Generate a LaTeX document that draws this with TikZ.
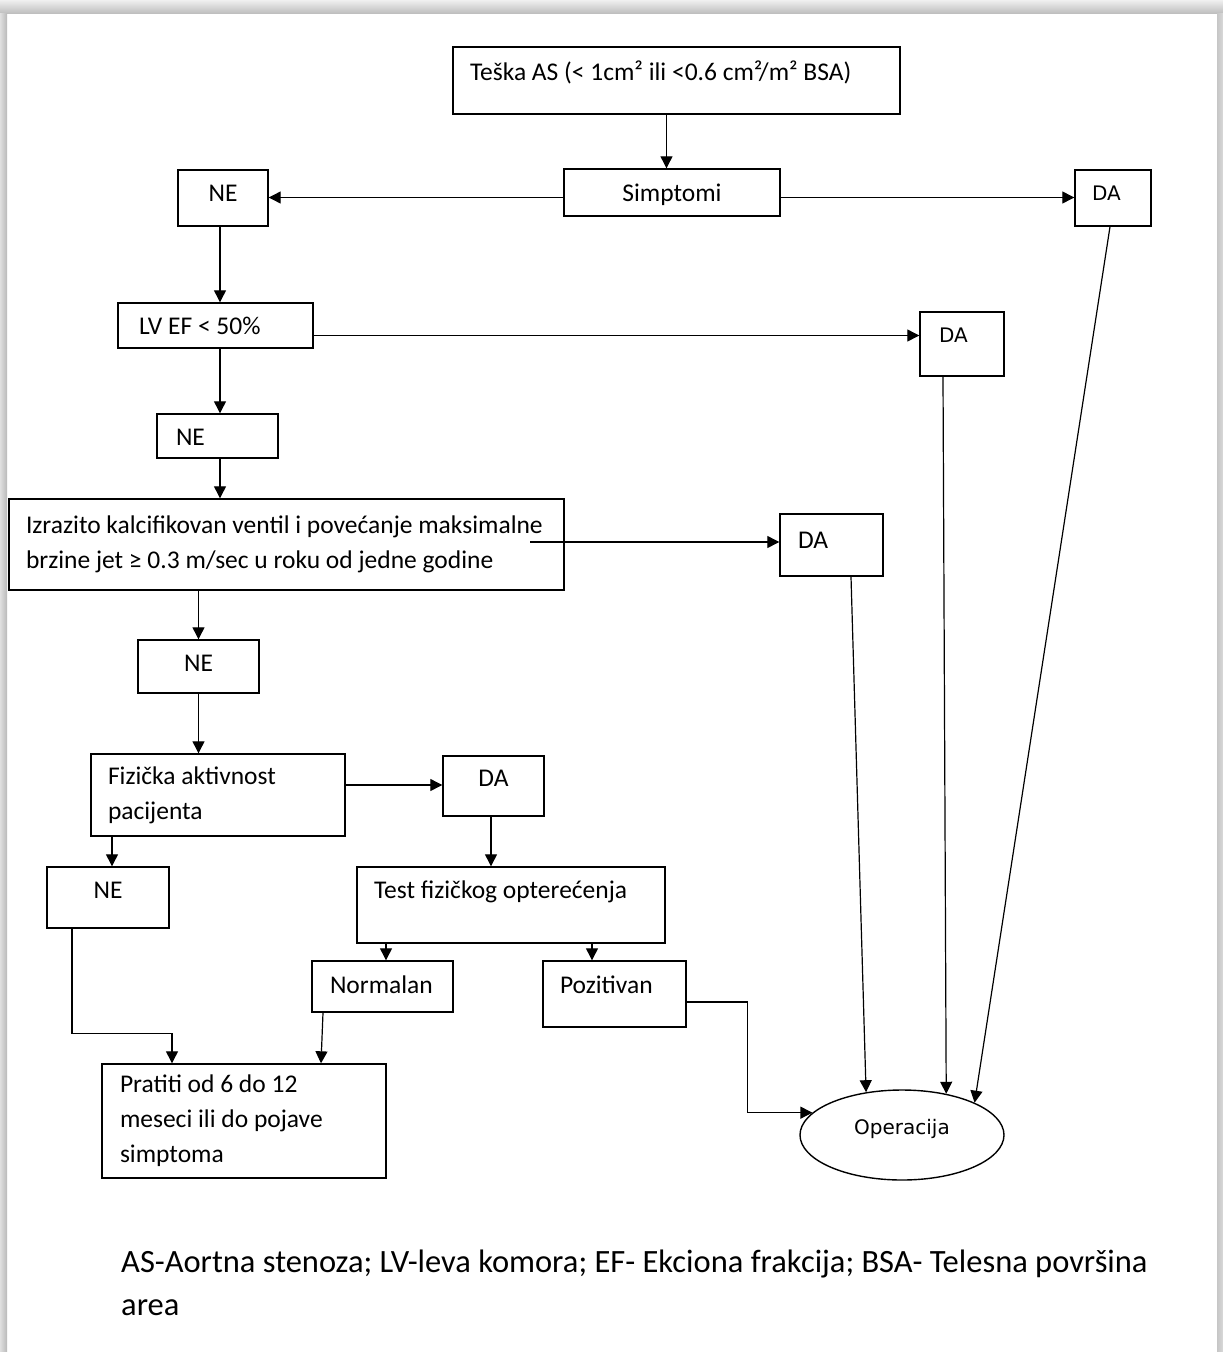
\documentclass[tikz,border=0pt]{standalone}
\usepackage{fontspec}
\setmainfont{Carlito}
\newfontfamily\verd{DejaVu Sans}
\usetikzlibrary{shapes.geometric, arrows.meta, calc}
\tikzstyle{arrow} = [line width=1.2pt, -{Triangle[width=12pt,length=12pt]}]
\tikzstyle{box}   = [draw, line width=1.4pt, rectangle, inner xsep=17pt, inner ysep=0pt, align=flush left, font=\fontsize{25.5}{35}\selectfont]
\tikzstyle{line1} = [text height=19pt]
\tikzstyle{vbox}  = [font=\verd\fontsize{20}{24}\selectfont]
\tikzstyle{oval}  = [draw, line width=1.4pt, ellipse, inner sep=0pt, minimum width=204pt, minimum height=90pt, font=\verd\fontsize{20}{24}\selectfont]

\begin{document}
\begin{tikzpicture}[x=1pt,y=-1pt]

\useasboundingbox (0,0) rectangle (1223,1352);
\fill[white] (0,0) rectangle (1223,1352);
\shade[top color=gray!12, bottom color=gray!50] (0,0) rectangle (1223,13);
\shade[left color=gray!25, right color=gray!55] (0,13) rectangle (7,1352);
\shade[left color=gray!45, right color=gray!30] (1217,13) rectangle (1223,1352);

\node[box,line1,minimum width=447pt,minimum height=67pt,text width=413pt,text depth=19.9pt] (tes) at (676.5,80.5) {Teška AS (< 1cm² ili <0.6 cm²/m² BSA)};
\node[box,line1,align=flush center,minimum width=216pt,minimum height=47pt,text width=182pt,text depth=1.9pt] (sim) at (672,192.5) {Simptomi};
\node[box,line1,align=flush center,minimum width=90pt,minimum height=56pt,text width=56pt,text depth=12.9pt] (ne1) at (223,198) {NE};
\node[box,vbox,line1,minimum width=76pt,minimum height=56pt,text width=42pt,text depth=14.4pt] (da1) at (1113,198) {DA};

\node[box,line1,inner xsep=21pt,minimum width=195pt,minimum height=45pt,text width=153pt,text depth=1.9pt] (lvef) at (215.5,325.5) {LV EF < 50\%};
\node[box,vbox,line1,inner xsep=19pt,minimum width=84pt,minimum height=64pt,text width=46pt,text depth=22.4pt] (da2) at (962,344) {DA};
\node[box,line1,inner xsep=19pt,minimum width=121pt,minimum height=44pt,text width=83pt,text depth=0pt] (ne2) at (217.5,436) {NE};

\node[box,minimum width=555pt,minimum height=91pt,text width=521pt] (izr) at (286.5,544.5) {Izrazito kalcifikovan ventil i povećanje maksimalne\\brzine jet ≥ 0.3 m/sec u roku od jedne godine};
\node[box,line1,inner xsep=18pt,minimum width=103pt,minimum height=62pt,text width=67pt,text depth=12.9pt] (da3) at (831.5,545) {DA};
\node[box,line1,align=flush center,minimum width=121pt,minimum height=53pt,text width=87pt,text depth=9.9pt] (ne3) at (198.5,666.5) {NE};

\node[box,minimum width=254pt,minimum height=82pt,text width=220pt] (fiz) at (218,795) {Fizička aktivnost\\pacijenta};
\node[box,line1,align=flush center,minimum width=101pt,minimum height=60pt,text width=67pt,text depth=18.9pt] (da4) at (493.5,786) {DA};
\node[box,line1,align=flush center,minimum width=122pt,minimum height=61pt,text width=88pt,text depth=17.9pt] (ne4) at (108,897.5) {NE};
\node[box,line1,minimum width=308pt,minimum height=76pt,text width=274pt,text depth=32.9pt] (tst) at (511,905) {Test fizičkog opterećenja};
\node[box,line1,inner xsep=18pt,minimum width=141pt,minimum height=51pt,text width=105pt,text depth=5.9pt] (nor) at (382.5,986.5) {Normalan};
\node[box,line1,minimum width=143pt,minimum height=66pt,text width=109pt,text depth=20.9pt] (poz) at (614.5,994) {Pozitivan};

\node[box,inner xsep=18pt,minimum width=284pt,minimum height=114pt,text width=248pt] (pra) at (244,1121) {Pratiti od 6 do 12\\meseci ili do pojave\\simptoma};
\node[oval,text height=19pt,text depth=20.4pt] (op) at (902,1135) {Operacija};

\node[anchor=west,inner sep=0pt,align=flush left,font=\fontsize{32.5}{43}\selectfont] (leg) at (121,1283) {AS-Aortna stenoza; LV-leva komora; EF- Ekciona frakcija; BSA- Telesna površina\\area};

\coordinate (izrout) at (530,542);

\draw[arrow] ([xshift=-10pt]tes.south) -- ([xshift=-10pt]tes.south |- sim.north);
\draw[arrow] ([yshift=-5pt]sim.west) -- ([yshift=-5pt]sim.west -| ne1.east);
\draw[arrow] ([yshift=-5pt]sim.east) -- ([yshift=-5pt]sim.east -| da1.west);
\draw[arrow] ([xshift=-3pt]ne1.south) -- ([xshift=-3pt]ne1.south |- lvef.north);

\draw[arrow] ([yshift=-10pt]lvef.east) -- ([yshift=-10pt]lvef.east -| da2.west);
\draw[arrow] ([xshift=4.5pt]lvef.south) -- ([xshift=4.5pt]lvef.south |- ne2.north);
\draw[arrow] ([xshift=2.5pt]ne2.south) -- ([xshift=2.5pt]ne2.south |- izr.north);

\draw[arrow] (izrout) -- (izrout -| da3.west);
\draw[arrow] (ne3.north |- izr.south) -- (ne3.north);
\draw[arrow] (ne3.south) -- (ne3.south |- fiz.north);

\draw[arrow] ([yshift=10pt]fiz.east) -- ([yshift=10pt]fiz.east -| da4.west);
\draw[arrow] ([xshift=-2.5pt]da4.south) -- ([xshift=-2.5pt]da4.south |- tst.north);
\draw[arrow] ([xshift=4pt]ne4.north |- fiz.south) -- ([xshift=4pt]ne4.north);
\draw[arrow] ([xshift=3.5pt]nor.north |- tst.south) -- ([xshift=3.5pt]nor.north);
\draw[arrow] ([xshift=-22.5pt]poz.north |- tst.south) -- ([xshift=-22.5pt]poz.north);

\draw[arrow] ([xshift=-36pt]ne4.south) -- ++(0,105) -| ([xshift=-72pt]pra.north);
\draw[arrow] ([xshift=-59.5pt]nor.south) -- ([xshift=77pt]pra.north);
\draw[arrow] ([yshift=-8pt]poz.east) -- ++(61,0) |- (op.166);

\draw[arrow] ([xshift=19.5pt]da3.south) -- (op.130);
\draw[arrow] ([xshift=-19pt]da2.south) -- (op.43);
\draw[arrow] ([xshift=-3pt]da1.south) -- (op.24);

\end{tikzpicture}
\end{document}
